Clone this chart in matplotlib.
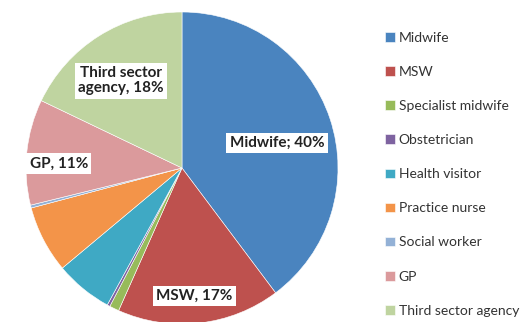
import matplotlib
matplotlib.use("Agg")
import matplotlib.pyplot as plt

# data
categories = ["Midwife", "MSW", "Specialist midwife", "Obstetrician", "Health visitor",
              "Practice nurse", "Social worker", "GP", "Third sector agency"]
shares = [40, 17, 1, 0.3, 6, 7, 0.3, 11, 18]
colors = ["#4A84BF", "#BE514E", "#97BB5A", "#7E63A0", "#3FA9C4",
          "#F39449", "#93B1D6", "#DB9A9C", "#BFD4A0"]
label_text = {"Midwife": "Midwife; 40%", "MSW": "MSW, 17%", "GP": "GP, 11%",
              "Third sector agency": "Third sector\nagency, 18%"}

plt.rcParams["font.family"] = ["Lato", "DejaVu Sans"]

fig = plt.figure(figsize=(5.29, 3.22), dpi=100)
ax = fig.add_axes([26 / 529, -2 / 322, 312 / 529, 312 / 322])

wedges, _ = ax.pie(shares, colors=colors, startangle=90, counterclock=False,
                   wedgeprops=dict(edgecolor="white", linewidth=0.4))
ax.set_xlim(-1, 1)
ax.set_ylim(-1, 1)
ax.set_aspect("equal")
ax.axis("off")

# label positions (fraction of radius) for the labelled slices
label_pos = {"Midwife": (0.61, 0.16), "MSW": (0.08, -0.82),
             "GP": (-0.79, 0.03), "Third sector agency": (-0.39, 0.56)}
for name, txt in label_text.items():
    x, y = label_pos[name]
    ax.text(x, y, txt, ha="center", va="center", fontsize=11, fontweight="bold",
            color="#222222", linespacing=1.1,
            bbox=dict(boxstyle="square,pad=0.22", facecolor="white", edgecolor="none"))

leg = fig.legend(wedges, categories, loc="upper left", bbox_to_anchor=(378 / 529, 1 - 25 / 322),
                 frameon=False, fontsize=10, handlelength=0.7, handleheight=0.7,
                 handletextpad=0.3, labelspacing=1.59, borderpad=0)
for t in leg.get_texts():
    t.set_color("#333333")

fig.savefig("out.png", dpi=100)
